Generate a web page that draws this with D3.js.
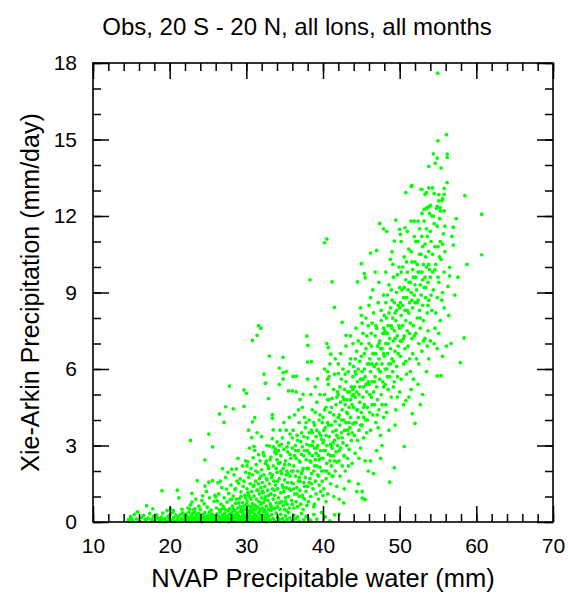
<!DOCTYPE html>
<html>
<head>
<meta charset="utf-8">
<script src="https://cdn.jsdelivr.net/npm/d3@7"></script>
<style>
  body { margin: 0; background: #fff; }
  text { font-family: "Liberation Sans", Arial, Helvetica, sans-serif; fill: #000; }
</style>
</head>
<body>
<div id="chart"></div>
<script>
const TITLE = "Obs, 20 S - 20 N, all lons, all months";
const X_LABEL = "NVAP Precipitable water (mm)";
const Y_LABEL = "Xie-Arkin Precipitation (mm/day)";

const xMajorTicks = [10, 20, 30, 40, 50, 60, 70];
const yMajorTicks = [0, 3, 6, 9, 12, 15, 18];

// [precipitable water (mm), precipitation (mm/day)]

// the dry strip hugging zero rain
const dryBand = [
  [14.6,0.08],[14.9,0.21],[15.2,0.05],[15.4,0.3],[15.7,0.12],[15.8,0.4],[16.1,0.02],[16.3,0.18],[16.6,0.26],
  [16.9,0.07],[17.2,0.15],[17.4,0.33],[17.6,0.04],[17.9,0.22],[15.0,0.14],[16.8,0.1],[17.7,0.11],[14.8,0.02],
  [18.1,0.05],[18.3,0.28],[18.5,0.12],[18.7,0.02],[18.9,0.19],[19.1,0.35],[19.2,0.08],[19.4,0.14],[19.6,0.03],
  [19.8,0.24],[20.0,0.1],[20.1,0.31],[20.3,0.06],[20.5,0.17],[20.6,0.02],[20.8,0.27],[21.0,0.09],[21.1,0.2],
  [21.3,0.04],[21.5,0.13],[21.7,0.36],[21.8,0.07],[21.9,0.22],[18.8,0.1],[19.9,0.15],[20.9,0.05],[21.4,0.29],
  [19.3,0.01],[20.4,0.38],[18.4,0.18],
  [22.0,0.12],[22.1,0.3],[22.2,0.04],[22.3,0.2],[22.4,0.09],[22.5,0.38],[22.6,0.15],[22.7,0.02],[22.8,0.25],
  [22.9,0.11],[23.0,0.33],[23.1,0.06],[23.2,0.18],[23.3,0.4],[23.4,0.1],[23.5,0.27],[23.6,0.03],[23.7,0.16],
  [23.8,0.34],[23.9,0.08],[24.0,0.22],[24.1,0.13],[24.2,0.01],[24.3,0.29],[24.4,0.17],[24.5,0.06],[24.6,0.37],
  [24.7,0.2],[24.8,0.1],[24.9,0.03],[25.0,0.26],[25.1,0.14],[25.2,0.39],[25.3,0.07],[25.4,0.19],[25.5,0.31],
  [25.6,0.02],[25.7,0.12],[25.8,0.24],[25.9,0.09],
  [26.0,0.18],[26.1,0.05],[26.2,0.32],[26.3,0.11],[26.4,0.23],[26.5,0.02],[26.6,0.4],[26.7,0.14],[26.8,0.07],
  [26.9,0.28],[27.0,0.19],[27.1,0.04],[27.2,0.35],[27.3,0.12],[27.4,0.24],[27.5,0.08],[27.6,0.16],[27.7,0.01],
  [27.8,0.3],[27.9,0.1],[28.0,0.21],[28.1,0.38],[28.2,0.06],[28.3,0.15],[28.4,0.27],[28.5,0.03],[28.6,0.19],
  [28.7,0.33],[28.8,0.11],[28.9,0.05],[29.0,0.25],[29.1,0.14],[29.2,0.41],[29.3,0.08],[29.4,0.2],[29.5,0.02],
  [29.6,0.3],[29.7,0.13],[29.8,0.06],[29.9,0.22],
  [30.0,0.1],[30.1,0.34],[30.2,0.17],[30.3,0.04],[30.4,0.26],[30.5,0.12],[30.6,0.39],[30.7,0.07],[30.8,0.21],
  [30.9,0.02],[31.0,0.15],[31.1,0.31],[31.2,0.09],[31.3,0.24],[31.4,0.05],[31.5,0.18],[31.6,0.36],[31.7,0.11],
  [31.8,0.28],[31.9,0.03],[32.0,0.2],[32.1,0.13],[32.2,0.4],[32.3,0.06],[32.4,0.25],[32.5,0.15],[32.6,0.01],
  [32.7,0.32],[32.8,0.1],[32.9,0.22],[33.1,0.07],[33.3,0.29],[33.5,0.14],[33.7,0.04],[33.9,0.35],
  [34.1,0.18],[34.3,0.08],[34.5,0.3],[34.7,0.13],[34.9,0.02],[35.1,0.24],[35.3,0.1],[35.5,0.37],[35.7,0.16],
  [35.9,0.05],[36.2,0.27],[36.4,0.12],[36.7,0.2],[36.9,0.03],[37.2,0.33],[37.5,0.09],[37.8,0.22],[38.1,0.14],
  [38.4,0.06],[38.8,0.3],[39.2,0.11],[39.8,0.37],[40.3,0.2],[40.9,0.05],[41.5,0.28],[42.1,0.31]
];

// lower cloud, 15-36 mm
const lowCloud = [
  [17.0,0.64],[17.8,0.52],[19.0,1.23],[21.0,1.25],[20.1,0.52],[21.2,0.95],[21.6,0.5],[19.65,0.45],[20.5,0.45],
  [22.7,0.67],[22.9,1.12],[22.9,0.78],[23.6,1.62],[24.3,1.03],[24.6,1.41],[25.1,1.56],[25.6,1.62],[22.4,0.55],
  [23.1,0.48],[23.4,0.9],[23.8,0.62],[24.0,0.5],[24.5,0.72],[24.9,0.58],[25.2,0.95],[25.4,0.47],[25.8,0.81],
  [23.3,0.52],[24.8,1.2],[25.9,1.05],[22.6,0.5],[24.2,0.85],
  [26.3,1.54],[26.6,1.6],[26.9,2.09],[27.6,1.95],[28.1,2.07],[28.7,2.08],[27.4,1.29],[29.0,1.52],[29.2,1.69],
  [29.9,1.95],[26.1,0.55],[26.2,0.83],[26.4,1.1],[26.5,0.48],[26.7,0.7],[26.8,1.35],[27.0,0.6],[27.1,0.95],
  [27.2,0.5],[27.3,1.75],[27.5,0.78],[27.7,1.12],[27.8,0.52],[27.9,0.88],[28.0,1.45],[28.2,0.62],[28.3,1.02],
  [28.4,0.47],[28.5,1.28],[28.6,0.74],[28.8,1.6],[28.9,0.55],[29.1,0.92],[29.3,1.18],[29.4,0.5],[29.5,0.76],
  [29.6,1.4],[29.7,0.62],[29.8,1.05],[29.9,2.4],[29.5,2.2],[28.9,2.5],[26.0,0.98],[27.6,0.45],[28.4,1.85],
  [29.8,0.48],[26.9,0.52],[28.7,0.9],[29.2,0.6],
  [30.0,0.5],[30.1,0.82],[30.1,1.3],[30.2,2.36],[30.1,2.2],[30.2,0.63],[30.3,1.05],[30.3,1.75],[30.4,0.47],
  [30.4,2.9],[30.5,0.95],[30.5,1.5],[30.6,0.6],[30.6,2.1],[30.7,1.2],[30.7,3.31],[30.8,0.72],[30.8,1.85],
  [30.9,0.52],[30.9,2.52],[30.9,1.4],[31.0,2.97],[31.0,1.02],[31.1,2.81],[31.1,0.66],[31.2,1.6],[31.2,0.48],
  [31.3,2.25],[31.3,0.9],[31.4,1.25],[31.5,0.58],[31.5,1.95],[31.6,2.64],[31.6,0.8],[31.7,1.1],[31.7,1.7],
  [31.8,0.5],[31.8,2.4],[31.9,1.35],[31.9,0.7],[32.0,0.95],[32.0,2.05],[32.1,1.55],[32.1,0.55],[32.2,2.72],
  [32.2,1.15],[32.3,0.78],[32.3,1.85],[32.4,0.48],[32.4,1.4],[32.5,2.3],[32.5,1.0],[32.6,2.39],[32.6,0.62],
  [32.7,1.65],[32.7,3.0],[32.8,0.85],[32.8,1.25],[32.9,2.1],[32.9,0.5],[33.0,2.98],[33.0,1.5],[33.1,0.72],
  [33.1,1.9],[33.2,1.1],[33.2,2.55],[33.3,0.58],[33.3,1.75],[33.4,3.27],[33.4,1.3],[33.5,0.9],[33.5,2.2],
  [33.6,1.6],[33.6,0.52],[33.7,2.75],[33.7,1.05],[33.8,2.87],[33.8,1.45],[33.9,2.68],[33.9,0.75],[34.0,3.14],
  [34.0,1.95],[33.2,0.46],[30.5,0.47],[31.4,3.5],[32.0,3.35],
  [34.1,0.6],[34.1,1.3],[34.2,2.3],[34.2,0.95],[34.3,1.7],[34.3,3.0],[34.4,2.34],[34.4,0.5],[34.5,1.15],
  [34.5,2.6],[34.6,0.8],[34.6,1.9],[34.7,1.45],[34.7,3.3],[34.8,0.65],[34.8,2.1],[34.9,1.2],[34.9,2.85],
  [35.0,0.5],[35.0,1.65],[35.1,2.4],[35.1,0.95],[35.2,1.35],[35.2,3.6],[35.3,2.0],[35.3,0.7],[35.4,1.55],
  [35.4,2.75],[35.5,1.0],[35.5,3.1],[35.6,2.25],[35.6,0.55],[35.7,1.8],[35.7,3.45],[35.8,1.25],[35.8,2.5],
  [35.9,0.85],[35.9,2.0],[35.2,1.85],[34.9,3.9],[35.6,4.1],[34.4,3.6]
];

// middle of the cloud, 36-46 mm
const midCloud = [
  [36.0,0.7],[36.0,2.9],[36.1,1.5],[36.1,3.6],[36.2,0.55],[36.2,2.2],[36.3,1.1],[36.3,4.2],[36.4,1.8],
  [36.4,3.0],[36.5,0.8],[36.5,2.5],[36.6,1.35],[36.6,3.4],[36.7,2.0],[36.7,0.6],[36.8,1.6],[36.8,2.8],
  [36.9,1.0],[36.9,3.9],[37.0,2.35],[37.0,1.25],[37.1,0.7],[37.1,3.15],[37.2,1.9],[37.2,2.65],[37.3,1.05],
  [37.3,4.5],[37.4,2.1],[37.4,0.5],[37.5,1.55],[37.5,3.35],[37.6,2.8],[37.6,0.9],[37.7,1.75],[37.7,3.7],
  [37.8,2.45],[37.8,1.2],[37.9,3.05],[37.9,0.65],[37.0,4.8],[36.5,5.1],[37.6,4.1],[36.9,1.75],[37.3,2.95],
  [36.3,2.6],
  [38.0,1.4],[38.0,3.3],[38.1,2.1],[38.1,0.8],[38.2,2.7],[38.2,4.0],[38.3,1.7],[38.3,3.0],[38.4,1.0],
  [38.4,2.35],[38.5,3.6],[38.5,1.9],[38.6,2.6],[38.6,4.4],[38.7,1.3],[38.7,3.15],[38.8,2.0],[38.8,0.6],
  [38.9,2.9],[38.9,3.8],[39.0,1.6],[39.0,2.45],[39.1,3.35],[39.1,1.1],[39.2,2.2],[39.2,4.7],[39.3,1.85],
  [39.3,3.0],[39.4,2.6],[39.4,0.9],[39.5,3.5],[39.5,1.45],[39.6,2.15],[39.6,4.2],[39.7,2.8],[39.7,1.2],
  [39.8,3.25],[39.8,2.0],[39.9,1.6],[39.9,3.9],[38.4,5.0],[39.0,5.3],[39.6,5.0],[38.9,0.7],[39.5,2.45],
  [38.6,3.5],[39.2,2.9],[38.2,1.55],
  [40.0,2.5],[40.0,4.1],[40.1,1.3],[40.1,3.2],[40.2,2.0],[40.2,5.0],[40.3,3.7],[40.3,2.8],[40.4,1.7],
  [40.4,4.5],[40.5,3.0],[40.5,2.3],[40.6,3.9],[40.6,1.1],[40.7,2.65],[40.7,5.4],[40.8,3.35],[40.8,1.9],
  [40.9,4.3],[40.9,2.4],[41.0,3.05],[41.0,1.5],[41.1,3.8],[41.1,2.2],[41.2,4.85],[41.2,2.9],[41.3,1.8],
  [41.3,3.55],[41.4,2.6],[41.4,4.2],[41.5,3.2],[41.5,5.8],[41.6,2.0],[41.6,3.95],[41.7,2.75],[41.7,4.6],
  [41.8,3.4],[41.8,1.4],[41.9,3.0],[41.9,5.1],[40.2,6.0],[40.9,6.2],[41.4,1.0],[40.4,0.8],[41.6,6.4],
  [40.6,4.8],[41.1,2.95],[40.1,3.6],[41.8,2.35],[40.8,5.7],
  [42.0,3.3],[42.0,5.0],[42.1,2.4],[42.1,4.2],[42.2,3.8],[42.2,1.8],[42.3,4.7],[42.3,2.9],[42.4,3.5],
  [42.4,5.6],[42.5,2.2],[42.5,4.4],[42.6,3.1],[42.6,6.0],[42.7,4.0],[42.7,2.6],[42.8,5.2],[42.8,3.6],
  [42.9,4.6],[42.9,2.0],[43.0,3.9],[43.0,5.5],[43.1,3.0],[43.1,4.8],[43.2,2.5],[43.2,4.25],[43.3,5.9],
  [43.3,3.45],[43.4,4.5],[43.4,2.85],[43.5,5.1],[43.5,3.7],[43.6,4.1],[43.6,6.4],[43.7,3.2],[43.7,5.3],
  [43.8,4.6],[43.8,2.3],[43.9,3.85],[43.9,5.7],[42.3,6.6],[43.0,6.9],[43.6,7.3],[42.8,1.3],[43.4,1.6],
  [42.1,0.9],[43.9,7.0],[42.6,4.9],[43.2,3.6],[43.8,4.95],
  [44.0,4.5],[44.0,6.1],[44.1,3.4],[44.1,5.3],[44.2,4.9],[44.2,2.7],[44.3,5.8],[44.3,3.9],[44.4,4.4],
  [44.4,6.7],[44.5,3.2],[44.5,5.5],[44.6,4.1],[44.6,7.1],[44.7,5.0],[44.7,3.6],[44.8,6.3],[44.8,4.7],
  [44.9,5.6],[44.9,2.9],[45.0,4.3],[45.0,6.5],[45.1,3.8],[45.1,5.9],[45.2,4.9],[45.2,7.4],[45.3,5.3],
  [45.3,3.3],[45.4,6.0],[45.4,4.6],[45.5,5.7],[45.5,2.4],[45.6,4.0],[45.6,6.8],[45.7,5.1],[45.7,3.5],
  [45.8,6.2],[45.8,4.5],[45.9,5.5],[45.9,7.7],[44.3,7.6],[45.0,8.1],[44.6,1.5],[45.4,0.9],[45.1,1.2],
  [45.9,2.0],[44.9,8.4],[45.6,8.0],[44.2,5.9],[45.3,4.1]
];

// wet end of the cloud, 46-56 mm
const wetCloud = [
  [46.0,5.4],[46.0,7.0],[46.1,4.3],[46.1,6.4],[46.2,5.9],[46.2,3.6],[46.3,6.9],[46.3,4.9],[46.4,5.5],
  [46.4,7.8],[46.5,4.2],[46.5,6.6],[46.6,5.1],[46.6,8.2],[46.7,6.1],[46.7,4.6],[46.8,7.3],[46.8,5.7],
  [46.9,6.6],[46.9,3.9],[47.0,5.3],[47.0,7.6],[47.1,4.8],[47.1,6.9],[47.2,6.0],[47.2,8.6],[47.3,6.4],
  [47.3,4.4],[47.4,7.1],[47.4,5.6],[47.5,6.8],[47.5,3.4],[47.6,5.0],[47.6,7.9],[47.7,6.2],[47.7,4.6],
  [47.8,7.4],[47.8,5.5],[47.9,6.6],[47.9,8.9],[46.5,9.1],[47.3,9.4],[47.0,2.8],[47.7,3.0],[46.2,2.4],
  [46.8,9.8],[47.5,5.9],[46.4,6.2],[47.9,4.1],[46.0,8.5],
  [48.0,6.5],[48.0,8.1],[48.1,5.4],[48.1,7.5],[48.2,7.0],[48.2,4.6],[48.3,8.0],[48.3,6.0],[48.4,6.6],
  [48.4,8.9],[48.5,5.2],[48.5,7.7],[48.6,6.2],[48.6,9.3],[48.7,7.2],[48.7,5.7],[48.8,8.4],[48.8,6.8],
  [48.9,7.7],[48.9,4.9],[49.0,6.4],[49.0,8.7],[49.1,5.9],[49.1,8.0],[49.2,7.1],[49.2,9.6],[49.3,7.5],
  [49.3,5.5],[49.4,8.2],[49.4,6.7],[49.5,7.9],[49.5,4.4],[49.6,6.1],[49.6,9.0],[49.7,7.3],[49.7,5.7],
  [49.8,8.5],[49.8,6.6],[49.9,7.7],[49.9,10.0],[48.2,9.8],[48.8,10.3],[49.4,3.8],[48.6,3.6],[49.0,10.6],
  [49.7,4.9],[48.4,7.4],[49.2,6.3],
  [50.0,7.6],[50.0,9.2],[50.1,6.5],[50.1,8.6],[50.2,8.1],[50.2,5.6],[50.3,9.1],[50.3,7.1],[50.4,7.7],
  [50.4,10.0],[50.5,6.2],[50.5,8.8],[50.6,7.3],[50.6,10.4],[50.7,8.3],[50.7,6.8],[50.8,9.5],[50.8,7.9],
  [50.9,8.8],[50.9,5.8],[51.0,7.5],[51.0,9.8],[51.1,6.9],[51.1,9.1],[51.2,8.2],[51.2,10.7],[51.3,8.6],
  [51.3,6.4],[51.4,9.4],[51.4,7.8],[51.5,9.0],[51.5,5.2],[51.6,7.2],[51.6,10.2],[51.7,8.4],[51.7,6.6],
  [51.8,9.6],[51.8,7.7],[51.9,8.9],[51.9,11.2],[50.5,4.6],[51.2,4.9],[51.8,5.6],[50.2,11.0],[51.0,11.4],
  [52.0,8.6],[52.0,10.2],[52.1,7.4],[52.1,9.6],[52.2,9.1],[52.2,6.4],[52.3,10.1],[52.3,8.0],[52.4,8.7],
  [52.4,11.0],[52.5,7.0],[52.5,9.8],[52.6,8.3],[52.6,11.5],[52.7,9.3],[52.7,7.6],[52.8,10.5],[52.8,8.9],
  [52.9,9.8],[52.9,6.7],[53.0,8.5],[53.0,10.8],[53.1,7.9],[53.1,10.1],[53.2,9.2],[53.2,11.8],[53.3,9.6],
  [53.3,7.2],[53.4,10.4],[53.4,8.8],[53.5,10.0],[53.5,5.9],[53.6,8.2],[53.6,11.2],[53.7,9.4],[53.7,7.5],
  [53.8,10.6],[53.8,8.7],[53.9,9.9],[53.9,12.1],[52.4,5.4],[53.0,5.0],[53.8,6.4],
  [54.0,9.6],[54.1,11.0],[54.2,8.3],[54.3,10.5],[54.4,9.1],[54.5,11.7],[54.6,7.6],[54.7,10.1],[54.8,12.3],
  [54.9,8.8],[55.0,10.8],[55.1,9.4],[55.2,11.9],[55.3,7.9],[55.4,10.3],[55.5,12.6],[55.6,9.0],[55.7,11.3],
  [55.8,8.4],[55.9,10.6],[54.2,12.0],[54.9,6.8],[55.3,11.0],[54.6,9.9],[55.6,6.5],[54.0,7.1],[55.8,12.2]
];

// denser ridge along the middle of the cloud
const ridgePts = [
  [28.1,0.9],[28.3,0.5],[28.6,1.3],[28.8,0.35],[29.0,0.75],[29.3,1.0],[29.5,0.4],[29.7,1.6],[30.0,0.7],
  [30.2,1.15],[30.4,1.9],[30.6,0.9],[30.8,0.4],[31.0,1.45],[31.2,2.0],[31.3,0.6],[31.5,1.25],[31.7,0.4],
  [31.9,1.8],[32.0,0.75],[30.3,0.35],[31.6,1.5],[28.5,0.45],[29.9,0.95],
  [32.1,1.2],[32.3,2.6],[32.4,0.9],[32.6,1.7],[32.8,2.2],[32.9,1.05],[33.1,2.45],[33.2,0.65],[33.4,1.85],
  [33.5,2.95],[33.7,1.25],[33.8,0.55],[34.0,2.45],[34.1,1.6],[34.3,0.75],[34.5,2.0],[34.6,3.05],[34.8,1.35],
  [35.0,2.25],[35.1,0.8],[35.3,2.95],[35.4,1.9],[35.6,1.3],[35.7,2.65],[35.9,1.55],[36.0,3.3],[32.5,0.4],
  [33.9,2.1],[35.2,0.45],[34.2,2.8],
  [36.1,2.0],[36.2,1.3],[36.4,2.8],[36.6,1.1],[36.7,3.2],[36.9,2.4],[37.0,1.6],[37.2,3.5],[37.3,2.0],
  [37.5,2.6],[37.6,1.4],[37.8,3.9],[37.9,2.1],[38.0,2.8],[38.2,3.5],[38.3,2.4],[38.5,1.5],[38.6,3.0],
  [38.8,3.9],[38.9,2.2],[39.1,2.7],[39.2,3.6],[39.4,1.8],[39.5,4.0],[39.7,3.4],[39.8,2.5],[40.0,3.1],
  [36.8,4.4],[37.4,0.95],[39.0,4.3],
  [40.1,2.8],[40.2,4.4],[40.4,3.4],[40.5,2.0],[40.7,3.8],[40.8,4.8],[41.0,2.6],[41.1,4.5],[41.3,3.1],
  [41.4,5.2],[41.5,2.4],[41.7,3.6],[41.8,4.9],[42.0,4.1],[42.1,2.8],[42.2,5.3],[42.4,4.0],[42.5,3.3],
  [42.7,4.8],[42.8,2.6],[42.9,5.8],[43.1,4.3],[43.2,5.1],[43.4,3.9],[43.5,6.2],[43.6,4.8],[43.8,3.5],
  [43.9,5.2],[42.0,6.2],[41.2,1.8],[40.6,5.6],[43.3,2.2],
  [44.0,5.0],[44.1,3.9],[44.2,6.4],[44.4,5.1],[44.5,4.4],[44.6,6.0],[44.8,5.3],[44.9,3.8],[45.0,7.0],
  [45.2,5.6],[45.3,4.5],[45.4,6.6],[45.6,5.4],[45.7,7.3],[45.8,4.0],[46.0,6.2],[46.1,5.0],[46.3,7.4],
  [46.4,4.6],[46.6,6.6],[46.7,5.5],[46.9,7.7],[47.0,6.2],[47.1,4.2],[47.3,7.0],[47.4,5.9],[47.6,8.3],
  [47.7,6.8],[47.9,5.3],[47.9,7.6],[44.7,2.5],[46.2,8.8],[45.1,7.8],[47.2,3.7],
  [48.0,7.4],[48.1,6.0],[48.2,8.6],[48.4,5.7],[48.5,7.0],[48.6,8.2],[48.8,6.2],[48.9,9.1],[49.0,7.6],
  [49.2,5.3],[49.3,8.6],[49.4,7.2],[49.6,8.3],[49.7,9.7],[49.8,6.9],[50.0,8.4],[50.1,7.1],[50.2,9.8],
  [50.4,8.5],[50.5,7.2],[50.6,9.2],[50.8,6.3],[50.9,10.2],[51.0,8.3],[51.2,9.4],[51.3,7.4],[51.5,10.6],
  [51.6,8.7],[51.7,9.9],[51.9,7.3],[48.3,4.3],[50.0,5.1],[51.4,5.9],[49.1,10.1],
  [52.0,9.3],[52.1,11.0],[52.3,8.6],[52.4,9.8],[52.6,10.5],[52.7,8.0],[52.9,11.2],[53.0,9.5],[53.1,7.1],
  [53.3,10.9],[53.4,9.2],[53.5,11.5],[53.7,8.5],[53.8,10.1],[54.0,11.4],[54.1,8.9],[54.3,9.8],[54.4,12.0],
  [54.6,10.8],[54.7,8.2],[54.9,11.6],[55.0,9.6],[55.2,10.4],[55.3,12.2],[55.5,8.7],[55.6,10.9],[55.8,9.8],
  [55.9,11.6],[52.5,6.2],[53.6,6.9],[54.5,7.0],[55.1,7.4]
];

// scattered points away from the core
const sparsePts = [
  [54.96,17.6],[56.1,15.19],[55.0,14.95],[54.4,14.44],[56.2,14.43],[54.9,14.27],[56.2,14.3],[54.65,14.07],
  [53.8,13.95],[55.4,13.88],[56.2,13.31],[51.6,13.19],[52.8,13.05],[53.8,13.1],[54.3,13.1],[55.8,13.08],
  [50.8,12.92],[53.5,12.92],[53.3,12.85],[54.5,12.88],[55.1,12.84],[55.8,12.85],[58.5,12.8],[55.6,12.68],
  [55.1,12.59],[54.0,12.42],[53.9,12.37],[54.9,12.38],[55.3,12.33],[53.5,12.29],
  [60.7,12.07],[57.4,11.9],[57.0,11.56],[60.7,10.48],[58.8,10.1],[57.0,10.86],[56.5,9.99],[56.5,9.65],
  [56.3,9.24],[58.4,7.22],[56.7,7.0],[57.9,6.25],[55.4,5.74],[56.4,8.1],[57.2,8.9],[56.8,11.2],[57.6,9.6],
  [56.1,6.9],
  [47.4,11.71],[47.9,11.5],[48.3,11.4],[49.5,11.84],[51.5,13.16],[52.9,13.04],[49.3,11.02],[50.1,11.28],
  [50.0,11.48],[50.7,11.54],[51.5,11.8],[51.9,11.8],[52.4,11.8],[52.9,12.1],[53.2,12.26],[53.6,12.34],
  [46.2,10.55],[47.0,10.65],[45.0,10.13],[45.4,9.74],[45.5,9.58],[44.5,9.42],[41.2,9.42],[41.5,8.42],
  [42.5,7.83],[40.2,10.95],[40.5,11.1],[38.3,9.5],
  [31.4,7.32],[30.8,7.12],[37.9,7.29],[38.0,6.93],[43.0,7.32],[40.5,7.0],[40.7,6.85],[41.0,6.58],[33.0,6.51],
  [34.8,6.46],[38.5,6.29],[38.0,6.27],[34.3,6.04],[32.3,5.8],[34.8,5.86],[35.2,5.9],[36.1,5.71],[36.5,5.72],
  [32.5,5.44],[34.8,5.61],[34.3,5.4],[38.0,5.6],[29.7,5.18],[32.9,4.84],[35.5,5.14],[36.0,5.14],[39.3,5.62],
  [40.6,5.9],[42.0,5.82],[37.4,5.01],[27.8,5.33],[30.0,5.05],[32.5,5.45],[27.3,4.52],[28.3,4.44],[29.7,4.54],
  [26.5,4.24],[27.1,3.91],[31.1,4.09],[30.8,3.93],[33.4,4.21],[33.4,4.07],[30.3,3.6],[33.5,3.61],[25.1,3.45],
  [22.7,3.2],[25.6,2.95],[24.6,2.44],[31.9,7.6],[31.6,7.7],
  [48.7,1.56],[49.3,2.13],[50.6,2.96],[45.1,0.94],[45.5,0.88],[40.0,1.04],[51.65,4.25],[52.0,3.87],[52.7,4.6],
  [50.8,4.76],[54.9,5.73],[47.5,2.5],[46.6,1.9],[44.4,1.2],[42.7,0.75]
];

const WIDTH = 568, HEIGHT = 600;
const margin = {top: 63, right: 15, bottom: 78, left: 93};
const plotW = WIDTH - margin.left - margin.right;
const plotH = HEIGHT - margin.top - margin.bottom;

const points = dryBand.concat(lowCloud, midCloud, wetCloud, ridgePts, sparsePts);

let svg = d3.select('#chart').append('svg')
    .attr('width', WIDTH)
    .attr('height', HEIGHT);

let xScale = d3.scaleLinear().domain([10, 70]).range([0, plotW]);
let yScale = d3.scaleLinear().domain([0, 18]).range([plotH, 0]);

let plot = svg.append('g')
    .attr('transform', 'translate(' + margin.left + ',' + margin.top + ')');

plot.append('g')
  .selectAll('circle')
  .data(points)
  .join('circle')
    .attr('cx', function(d) { return xScale(d[0]); })
    .attr('cy', function(d) { return yScale(d[1]); })
    .attr('r', 1.85)
    .attr('fill', '#00ff00');

const xMinor = d3.range(10, 70.01, 2);
const yMinor = d3.range(0, 18.01, 1);

// NCL style: every tick points into the frame, on all four sides
function addAxis(axisFn, scale, major, minor, transform, labels) {
  let g = plot.append('g').attr('transform', transform);
  g.append('g')
      .call(axisFn(scale).tickValues(minor).tickSize(-8).tickFormat(''))
      .call(function(a) { a.select('.domain').remove(); });
  let maj = g.append('g')
      .call(axisFn(scale).tickValues(major).tickSize(-16).tickPadding(16)
        .tickFormat(labels ? d3.format('d') : ''))
      .call(function(a) { a.select('.domain').remove(); });
  g.selectAll('line').attr('stroke', '#000').attr('stroke-width', 1.5);
  maj.selectAll('text').attr('font-size', 21).attr('fill', '#000')
      .attr('font-family', '"Liberation Sans", Arial, sans-serif');
}

addAxis(d3.axisBottom, xScale, xMajorTicks, xMinor, 'translate(0,' + plotH + ')', true);
addAxis(d3.axisTop, xScale, xMajorTicks, xMinor, 'translate(0,0)', false);
addAxis(d3.axisLeft, yScale, yMajorTicks, yMinor, 'translate(0,0)', true);
addAxis(d3.axisRight, yScale, yMajorTicks, yMinor, 'translate(' + plotW + ',0)', false);

plot.append('rect')
    .attr('width', plotW)
    .attr('height', plotH)
    .attr('fill', 'none')
    .attr('stroke', '#000')
    .attr('stroke-width', 1.6);

svg.append('text')
    .attr('x', 297)
    .attr('y', 35)
    .attr('text-anchor', 'middle')
    .attr('font-size', 24)
    .text(TITLE);

svg.append('text')
    .attr('x', margin.left + plotW / 2)
    .attr('y', 587)
    .attr('text-anchor', 'middle')
    .attr('font-size', 25.5)
    .text(X_LABEL);

svg.append('text')
    .attr('transform', 'translate(39,' + (margin.top + plotH / 2) + ') rotate(-90)')
    .attr('text-anchor', 'middle')
    .attr('font-size', 25)
    .text(Y_LABEL);
</script>
</body>
</html>
